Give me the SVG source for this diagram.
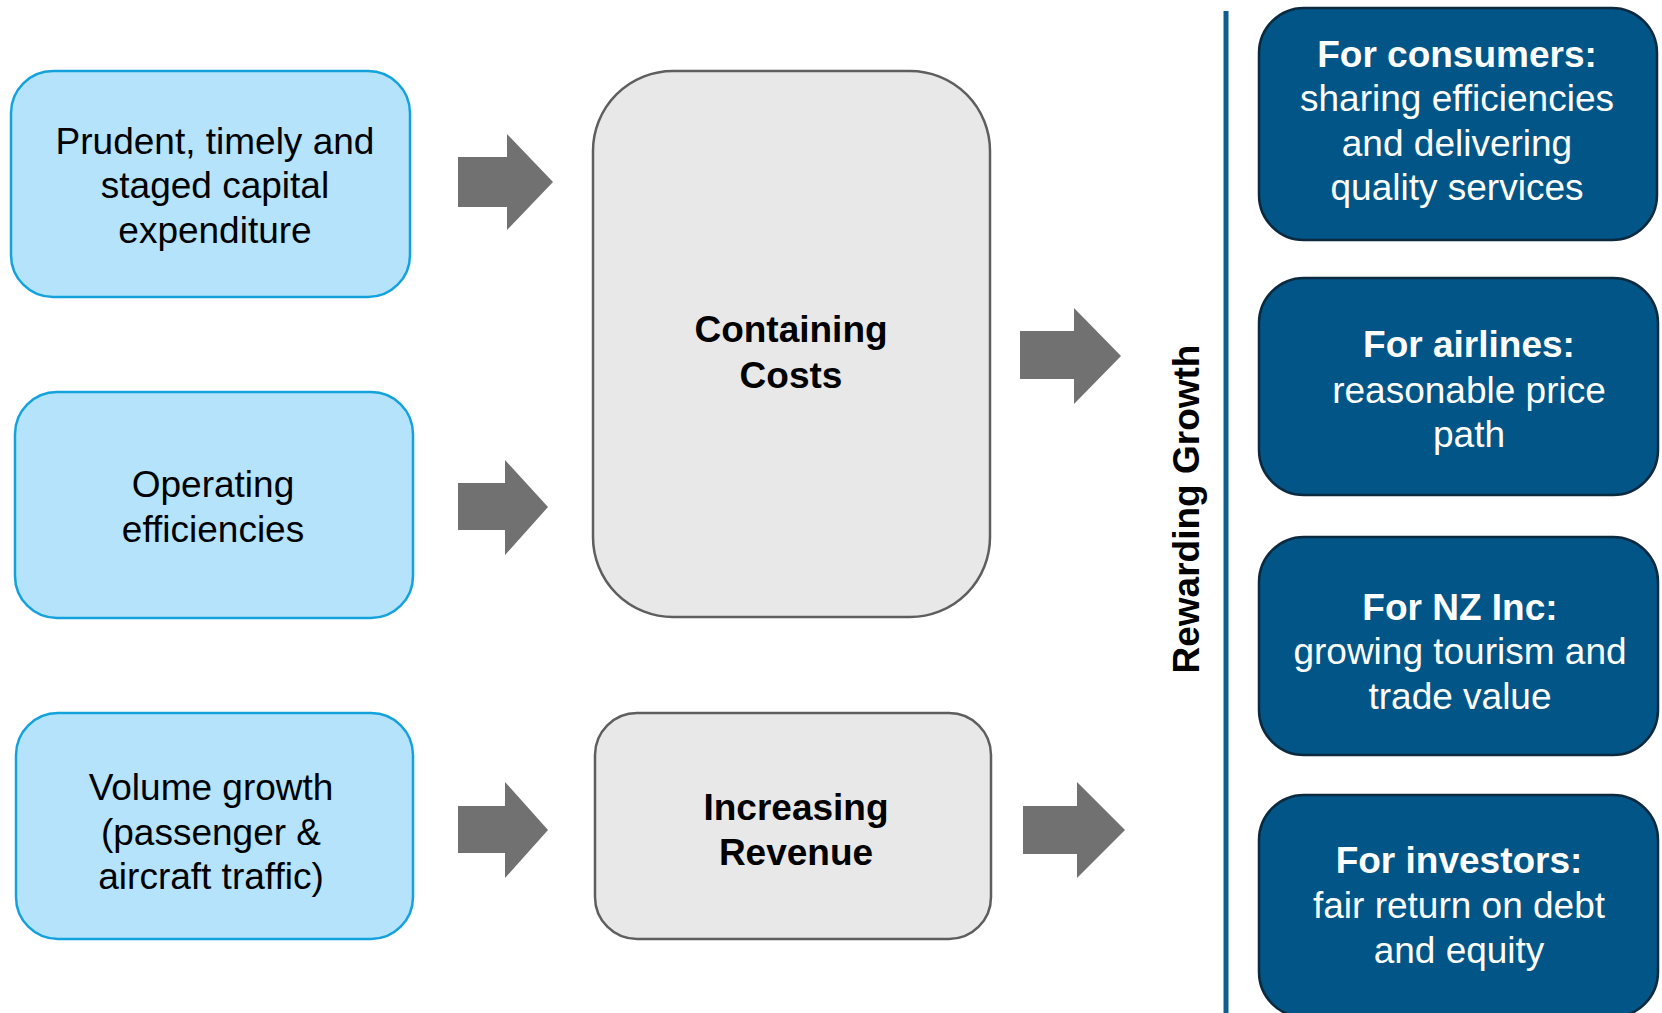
<svg xmlns="http://www.w3.org/2000/svg" width="1662" height="1013" viewBox="0 0 1662 1013">
<style>
.lb{fill:#b4e3fb;stroke:#14a2dd;stroke-width:2.5}
.gb{fill:#e8e8e8;stroke:#5e5e5e;stroke-width:2.5}
.db{fill:#015687;stroke:#0b2a40;stroke-width:2.5}
.ar{fill:#717171}
text{font-family:"Liberation Sans",Arial,sans-serif;font-size:37px;text-anchor:middle}
.k{fill:#000}
.w{fill:#fff}
.b{font-weight:bold}
</style>
<rect width="1662" height="1013" fill="#fff"/>
<g id="connectors">
<polygon class="ar" points="458,157 507,157 507,134 553,182 507,230 507,207 458,207"/>
<polygon class="ar" points="458,483 505,483 505,460 548,507 505,555 505,530 458,530"/>
<polygon class="ar" points="458,806 505,806 505,782 548,830 505,878 505,853 458,853"/>
<polygon class="ar" points="1020,331 1074,331 1074,308 1121,356 1074,404 1074,379 1020,379"/>
<polygon class="ar" points="1023,806 1077,806 1077,782 1125,830 1077,878 1077,854 1023,854"/>
<line x1="1226" y1="11" x2="1226" y2="1013" stroke="#0e5e8f" stroke-width="5"/>
</g>
<g id="n-capex">
<rect class="lb" x="11" y="71" width="399" height="226" rx="42"/>
<text class="k" x="215" y="154">Prudent, timely and</text>
<text class="k" x="215" y="198">staged capital</text>
<text class="k" x="215" y="243">expenditure</text>
</g>
<g id="n-opex">
<rect class="lb" x="15" y="392" width="398" height="226" rx="42"/>
<text class="k" x="213" y="497">Operating</text>
<text class="k" x="213" y="542">efficiencies</text>
</g>
<g id="n-volume">
<rect class="lb" x="16" y="713" width="397" height="226" rx="42"/>
<text class="k" x="211" y="800">Volume growth</text>
<text class="k" x="211" y="845">(passenger &amp;</text>
<text class="k" x="211" y="889">aircraft traffic)</text>
</g>
<g id="n-costs">
<rect class="gb" x="593" y="71" width="397" height="546" rx="80"/>
<text class="k b" x="791" y="342">Containing</text>
<text class="k b" x="791" y="388">Costs</text>
</g>
<g id="n-revenue">
<rect class="gb" x="595" y="713" width="396" height="226" rx="42"/>
<text class="k b" x="796" y="820">Increasing</text>
<text class="k b" x="796" y="865">Revenue</text>
</g>
<g id="n-rewarding">
<text class="k b" transform="translate(1199,509) rotate(-90)" x="0" y="0">Rewarding Growth</text>
</g>
<g id="n-consumers">
<rect class="db" x="1259" y="8" width="398" height="232" rx="45"/>
<text class="w b" x="1457" y="67">For consumers:</text>
<text class="w" x="1457" y="111">sharing efficiencies</text>
<text class="w" x="1457" y="156">and delivering</text>
<text class="w" x="1457" y="200">quality services</text>
</g>
<g id="n-airlines">
<rect class="db" x="1259" y="278" width="399" height="217" rx="45"/>
<text class="w b" x="1469" y="357">For airlines:</text>
<text class="w" x="1469" y="403">reasonable price</text>
<text class="w" x="1469" y="447">path</text>
</g>
<g id="n-nzinc">
<rect class="db" x="1259" y="537" width="399" height="218" rx="45"/>
<text class="w b" x="1460" y="620">For NZ Inc:</text>
<text class="w" x="1460" y="664">growing tourism and</text>
<text class="w" x="1460" y="709">trade value</text>
</g>
<g id="n-investors">
<rect class="db" x="1259" y="795" width="399" height="222" rx="45"/>
<text class="w b" x="1459" y="873">For investors:</text>
<text class="w" x="1459" y="918">fair return on debt</text>
<text class="w" x="1459" y="963">and equity</text>
</g>
</svg>
